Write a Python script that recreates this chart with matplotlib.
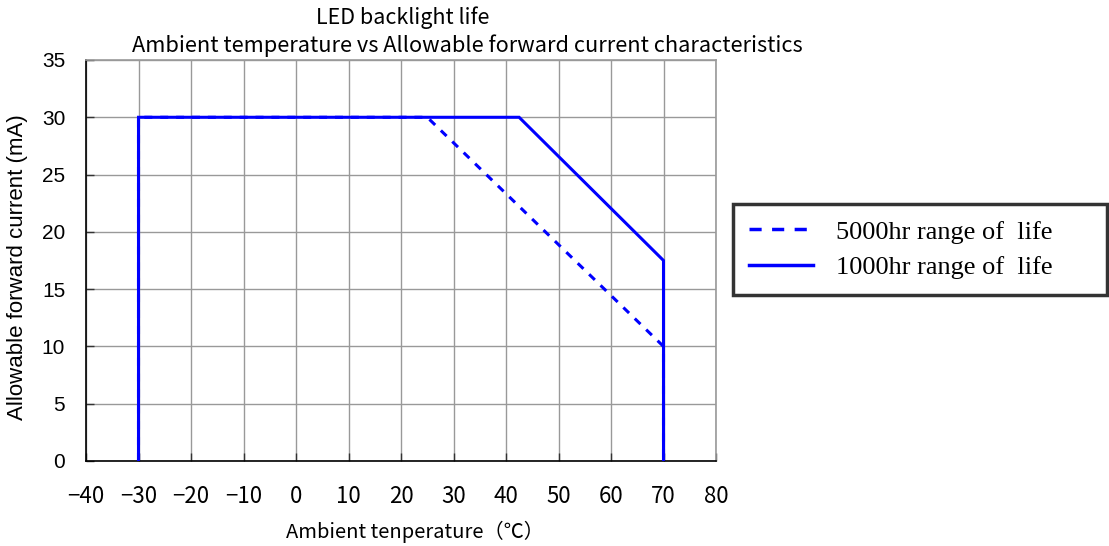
import matplotlib
matplotlib.use("Agg")
import matplotlib.pyplot as plt
from matplotlib.lines import Line2D

# Data
temp_5000 = [-30, -30, 25, 70, 70]
curr_5000 = [0, 30, 30, 10, 0]
temp_1000 = [-30, -30, 42.5, 70, 70]
curr_1000 = [0, 30, 30, 17.5, 0]
xticks = list(range(-40, 81, 10))
yticks = list(range(0, 36, 5))
legend_labels = ["5000hr range of  life", "1000hr range of  life"]

gothic = ["Noto Sans CJK JP", "DejaVu Sans"]
arial = ["Liberation Sans", "DejaVu Sans"]
serif = ["Liberation Serif", "DejaVu Serif"]

fig = plt.figure(figsize=(11.09, 5.46), dpi=100)
ax = fig.add_axes([86/1109, 85/546, 630/1109, 401/546])

ax.plot(temp_1000, curr_1000, color="#0000ff", lw=2.2, solid_joinstyle="miter", zorder=3)
ax.plot(temp_5000, curr_5000, color="#0000ff", lw=2.2, linestyle=(0, (2.6, 2.6)), zorder=4)

ax.set_xlim(-40, 80)
ax.set_ylim(0, 35)
ax.set_xticks(xticks)
ax.set_yticks(yticks)
ax.set_xticklabels([str(v).replace("-", "\u2212") for v in xticks], fontfamily=gothic, fontsize=16)
ax.set_yticklabels([str(v) for v in yticks], fontfamily=arial, fontsize=15)
ax.tick_params(direction="in", length=6, width=1, color="#333333")
ax.tick_params(axis="x", pad=17)
ax.tick_params(axis="y", pad=15)
ax.grid(True, color="#999999", lw=1)
ax.set_axisbelow(True)
for s in ["top", "right"]:
    ax.spines[s].set_color("#999999")
    ax.spines[s].set_linewidth(1.2)
for s in ["left", "bottom"]:
    ax.spines[s].set_color("black")
    ax.spines[s].set_linewidth(1.2)

fig.text(403/1109, 1 - 18/546, "LED backlight life", ha="center", va="center",
         fontfamily=gothic, fontsize=15.5)
fig.text(467/1109, 1 - 46/546, "Ambient temperature vs Allowable forward current characteristics",
         ha="center", va="center", fontfamily=gothic, fontsize=15.7)
fig.text(415/1109, 1 - 532/546, "Ambient tenperature\uff08\u2103\uff09", ha="center", va="center",
         fontfamily=gothic, fontsize=14.5)
fig.text(18/1109, 1 - 267/546, "Allowable forward current (mA)", ha="center", va="center",
         rotation=90, fontfamily=arial, fontsize=16)

handles = [Line2D([0], [0], color="#0000ff", lw=2.5, linestyle=(0, (3.5, 3))),
           Line2D([0], [0], color="#0000ff", lw=2.5)]
leg = fig.legend(handles, legend_labels, loc="center left", mode="expand",
                 bbox_to_anchor=(733/1109, 1 - 296/546, 374/1109, 93/546),
                 frameon=True, fancybox=False,
                 edgecolor="black", prop={"family": serif, "size": 19},
                 handlelength=2.4, handletextpad=0.9, borderpad=0.62, labelspacing=0.45,
                 borderaxespad=0)
leg.get_frame().set_linewidth(2.5)

fig.savefig("out.png", dpi=100)
